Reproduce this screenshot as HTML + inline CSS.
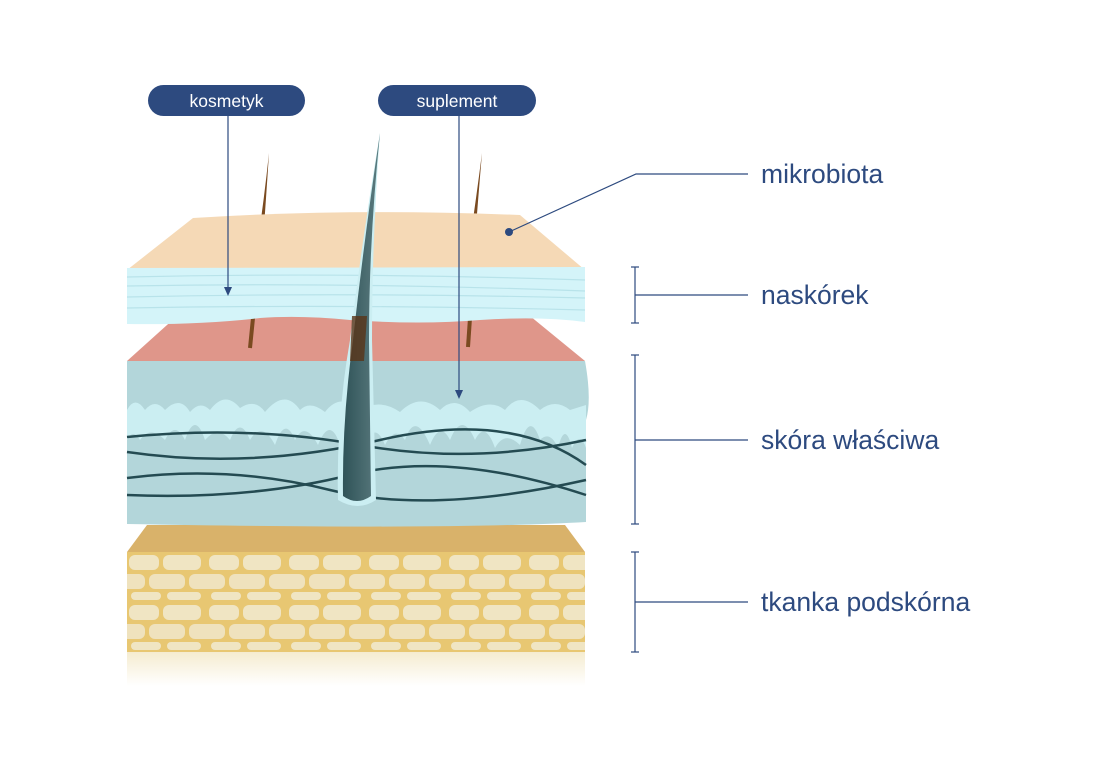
<!DOCTYPE html>
<html><head><meta charset="utf-8"><style>
html,body{margin:0;padding:0;background:#fff;width:1098px;height:776px;overflow:hidden}
svg{display:block}
text{font-family:"Liberation Sans",sans-serif;fill:#2d4a7f}
</style></head><body>
<svg width="1098" height="776" viewBox="0 0 1098 776" xmlns="http://www.w3.org/2000/svg">
<defs>
<linearGradient id="fade" x1="0" y1="0" x2="0" y2="1"><stop offset="0" stop-color="#f5ecd0"/><stop offset="1" stop-color="#fff"/></linearGradient>
<linearGradient id="hairg" x1="0" y1="0" x2="1" y2="0"><stop offset="0" stop-color="#2f5358"/><stop offset="1" stop-color="#5c7c80"/></linearGradient>
<pattern id="cells" x="127" y="552" width="80" height="50" patternUnits="userSpaceOnUse">
<rect x="0" y="0" width="80" height="50" fill="#e8c772"/>
<rect x="2" y="3" width="30" height="15" rx="6" fill="#f0e5c3"/>
<rect x="36" y="3" width="38" height="15" rx="6" fill="#f0e5c3"/>
<rect x="-14" y="22" width="32" height="15" rx="6" fill="#efe2bd"/>
<rect x="22" y="22" width="36" height="15" rx="6" fill="#efe2bd"/>
<rect x="62" y="22" width="32" height="15" rx="6" fill="#efe2bd"/>
<rect x="4" y="40" width="30" height="8" rx="4" fill="#f0e5c3"/>
<rect x="40" y="40" width="34" height="8" rx="4" fill="#f0e5c3"/>
</pattern>
</defs>

<path d="M269 153 Q264 200 258 240 L263 240 Q266 200 269 153 Z" fill="#7a4a20"/>
<path d="M482 153 Q476 200 470 240 L475 240 Q478 200 482 153 Z" fill="#7a4a20"/>

<polygon points="147,525 565,525 585,552 127,552" fill="#d9b26a"/>
<rect x="127" y="552" width="458" height="100" fill="url(#cells)"/>
<rect x="127" y="652" width="458" height="34" fill="url(#fade)"/>

<path d="M127 361 L585 361 Q592 400 586 420 L586 522 Q450 530 127 524 Z" fill="#b3d6da"/>
<path d="M127 410 Q135 395 145 410 Q155 398 165 410 Q180 395 190 412 Q200 400 210 410 Q225 390 240 408 Q255 398 265 412 Q285 388 300 410 Q310 400 325 412 Q340 392 360 410 Q380 398 400 412 Q420 392 440 410 Q455 395 470 412 Q490 398 505 410 Q520 390 540 410 Q555 398 570 410 L586 405 L586 448 Q580 430 572 448 Q565 420 558 448 Q550 430 540 440 Q530 410 520 445 Q505 430 495 448 Q485 420 475 440 Q462 410 450 440 Q440 420 430 445 Q415 410 405 440 Q395 425 385 445 Q375 420 365 445 L340 445 Q330 415 318 445 Q305 420 295 440 Q285 415 275 445 Q262 420 250 440 Q240 415 230 440 Q218 425 205 440 Q195 410 185 440 Q175 420 165 440 Q150 425 140 440 Q133 428 127 440 Z" fill="#cbeef2"/>
<g stroke="#244b52" stroke-width="2.5" fill="none">
<path d="M127 437 Q250 425 360 445 T586 440"/>
<path d="M127 452 Q250 470 380 440 T586 465"/>
<path d="M127 478 Q230 465 330 490 T586 480"/>
<path d="M127 495 Q250 500 350 475 T586 495"/>
</g>

<polygon points="177,316 530,316 585,361 127,361" fill="#df968a"/>
<path d="M253 318 L250 348" stroke="#7a4a20" stroke-width="4"/>
<path d="M470 318 L468 347" stroke="#7a4a20" stroke-width="4"/>

<path d="M193 218 Q350 208 520 215 L585 270 L127 270 Z" fill="#f5d9b6"/>
<path d="M127 268 L585 267 L585 322 Q540 316 480 320 Q420 325 350 320 Q300 315 260 318 Q200 325 127 324 Z" fill="#d4f4f9"/>
<g stroke="#b8e3ea" stroke-width="1.2" fill="none">
<path d="M127 277 Q350 272 585 280"/><path d="M127 286 Q350 282 585 291"/><path d="M127 297 Q350 292 585 298"/><path d="M127 308 Q350 304 585 310"/>
</g>

<path d="M338 500 Q336 420 350 340 Q362 240 380 133 Q372 240 372 340 Q374 420 376 500 Q358 512 338 500 Z" fill="#cbeef2"/>
<path d="M343 496 Q342 420 353 340 Q364 240 380 133 Q369 240 369 340 Q370 420 371 496 Q357 506 343 496 Z" fill="url(#hairg)"/>
<path d="M352 316 L367 316 L364 361 L350 361 Z" fill="#5a3518" opacity="0.8"/>

<rect x="148" y="85" width="157" height="31" rx="15.5" fill="#2d4a7f"/>
<text x="226.5" y="107" font-size="17.5" text-anchor="middle" style="fill:#fff">kosmetyk</text>
<rect x="378" y="85" width="158" height="31" rx="15.5" fill="#2d4a7f"/>
<text x="457" y="107" font-size="17.5" text-anchor="middle" style="fill:#fff">suplement</text>
<g stroke="#2d4a7f" stroke-width="1.2" fill="none">
<line x1="228" y1="116" x2="228" y2="290"/>
<line x1="459" y1="116" x2="459" y2="393"/>
<polyline points="509,232 636,174 748,174"/>
<line x1="635" y1="267" x2="635" y2="323"/><line x1="631" y1="267" x2="639" y2="267"/><line x1="631" y1="323" x2="639" y2="323"/><line x1="635" y1="295" x2="748" y2="295"/>
<line x1="635" y1="355" x2="635" y2="524"/><line x1="631" y1="355" x2="639" y2="355"/><line x1="631" y1="524" x2="639" y2="524"/><line x1="635" y1="440" x2="748" y2="440"/>
<line x1="635" y1="552" x2="635" y2="652"/><line x1="631" y1="552" x2="639" y2="552"/><line x1="631" y1="652" x2="639" y2="652"/><line x1="635" y1="602" x2="748" y2="602"/>
</g>
<polygon points="224,287 232,287 228,296" fill="#2d4a7f"/>
<polygon points="455,390 463,390 459,399" fill="#2d4a7f"/>
<circle cx="509" cy="232" r="4" fill="#2d4a7f"/>
<text x="761" y="183" font-size="26.5">mikrobiota</text>
<text x="761" y="304" font-size="26.5">naskórek</text>
<text x="761" y="449" font-size="26.5">skóra właściwa</text>
<text x="761" y="611" font-size="26.5">tkanka podskórna</text>
</svg>
</body></html>
